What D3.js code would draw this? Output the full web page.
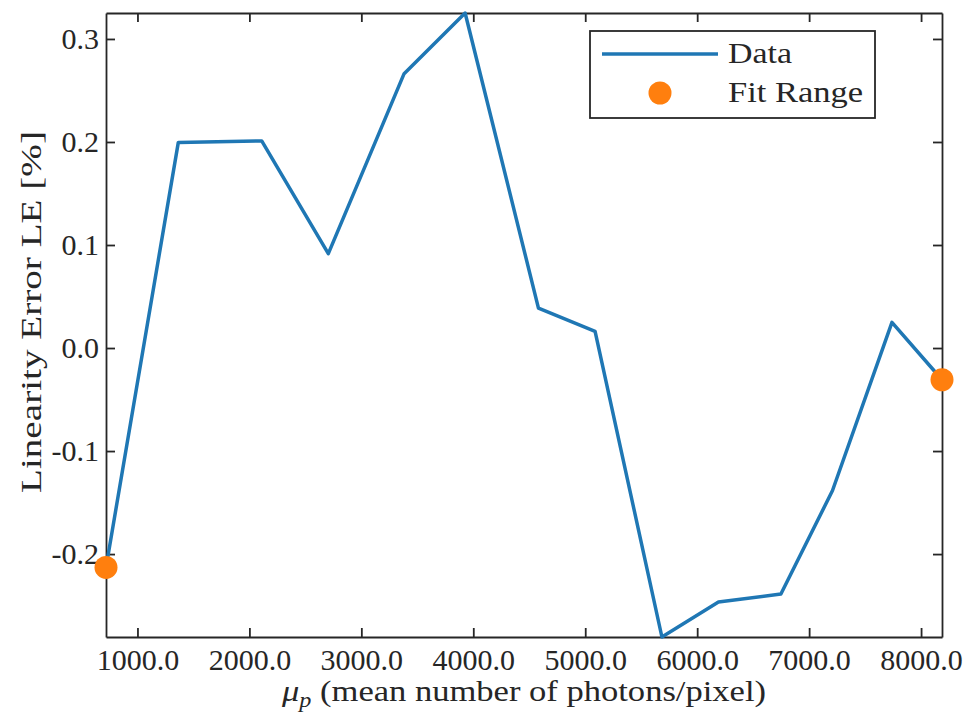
<!DOCTYPE html>
<html>
<head>
<meta charset="utf-8">
<script src="https://cdn.jsdelivr.net/npm/d3@7"></script>
<style>
    body { margin: 0; background: #fff; }
    text { font-family: "Liberation Serif", "Times New Roman", serif; fill: #262626; }
</style>
</head>
<body>
<div id="chart"></div>
<script>
// mean number of photons per pixel
const photons = [719, 1365, 2110, 2705, 3382, 3927, 4582, 5088, 5685, 6190, 6748, 7209, 7740, 8187];
// linearity error in percent
const linErr = [-0.213, 0.1996, 0.2010, 0.0916, 0.2663, 0.3252, 0.0388, 0.0161, -0.2805, -0.2466, -0.2388, -0.1383, 0.0249, -0.0308];
// first and last points mark the fit range
const fitIdx = [0, 13];

const xTicks = [1000, 2000, 3000, 4000, 5000, 6000, 7000, 8000];
const yTicks = [-0.2, -0.1, 0.0, 0.1, 0.2, 0.3];

const width = 967;
const height = 715;
const margin = { top: 13, right: 25, bottom: 78, left: 106 };
const axisColor = "#262626";

const data = photons.map((p, i) => ({ x: p, y: linErr[i] }));
const fitData = fitIdx.map(i => data[i]);

const svg = d3.select("#chart")
    .append("svg")
    .attr("width", width)
    .attr("height", height);

const x = d3.scaleLinear()
    .domain(d3.extent(photons))
    .range([margin.left, width - margin.right]);

const y = d3.scaleLinear()
    .domain(d3.extent(linErr))
    .range([height - margin.bottom, margin.top]);

const fmt = d => d.toFixed(1);

// axes with inward ticks on all four sides
const xAxisB = svg.append("g")
    .attr("transform", `translate(0, ${height - margin.bottom})`)
    .call(d3.axisBottom(x).tickValues(xTicks).tickSize(-9).tickSizeOuter(0).tickPadding(12).tickFormat(fmt));

const xAxisT = svg.append("g")
    .attr("transform", `translate(0, ${margin.top})`)
    .call(d3.axisTop(x).tickValues(xTicks).tickSize(-9).tickSizeOuter(0).tickFormat(""));

const yAxisL = svg.append("g")
    .attr("transform", `translate(${margin.left}, 0)`)
    .call(d3.axisLeft(y).tickValues(yTicks).tickSize(-9).tickSizeOuter(0).tickPadding(7).tickFormat(fmt));

const yAxisR = svg.append("g")
    .attr("transform", `translate(${width - margin.right}, 0)`)
    .call(d3.axisRight(y).tickValues(yTicks).tickSize(-9).tickSizeOuter(0).tickFormat(""));

[xAxisB, xAxisT, yAxisL, yAxisR].forEach(g => {
    g.selectAll(".domain").attr("stroke", axisColor).attr("stroke-width", 1.8);
    g.selectAll(".tick line").attr("stroke", axisColor).attr("stroke-width", 1.8);
    g.selectAll(".tick text")
        .style("font-family", "'Liberation Serif', serif")
        .style("font-size", "30px")
        .attr("fill", axisColor);
});

// data line
const line = d3.line()
    .x(d => x(d.x))
    .y(d => y(d.y));

svg.append("path")
    .datum(data)
    .attr("d", line)
    .attr("fill", "none")
    .attr("stroke", "#1f77b4")
    .attr("stroke-width", 3.5)
    .attr("stroke-linejoin", "round");

// fit range markers
svg.selectAll(".fit")
    .data(fitData)
    .enter()
    .append("circle")
    .attr("class", "fit")
    .attr("cx", d => x(d.x))
    .attr("cy", d => y(d.y))
    .attr("r", 11.5)
    .attr("fill", "#ff7f0e");

// axis labels
const xLabel = svg.append("text")
    .attr("x", (margin.left + width - margin.right) / 2)
    .attr("y", 701)
    .attr("text-anchor", "middle")
    .attr("textLength", 484)
    .attr("lengthAdjust", "spacingAndGlyphs")
    .style("font-size", "30px");
xLabel.append("tspan").style("font-style", "italic").text("μ");
xLabel.append("tspan").style("font-style", "italic").style("font-size", "21px").attr("dy", 6).text("p");
xLabel.append("tspan").attr("dy", -6).text(" (mean number of photons/pixel)");

svg.append("text")
    .attr("transform", `translate(41, 312) rotate(-90)`)
    .attr("text-anchor", "middle")
    .attr("textLength", 362)
    .attr("lengthAdjust", "spacingAndGlyphs")
    .style("font-size", "30px")
    .text("Linearity Error LE [%]");

// legend
const legend = svg.append("g").attr("class", "legend");

legend.append("rect")
    .attr("x", 590)
    .attr("y", 31)
    .attr("width", 285)
    .attr("height", 87)
    .attr("fill", "#fff")
    .attr("stroke", axisColor)
    .attr("stroke-width", 1.8);

legend.append("line")
    .attr("x1", 602)
    .attr("x2", 718)
    .attr("y1", 54)
    .attr("y2", 54)
    .attr("stroke", "#1f77b4")
    .attr("stroke-width", 3.5);

legend.append("circle")
    .attr("cx", 660)
    .attr("cy", 93)
    .attr("r", 11.5)
    .attr("fill", "#ff7f0e");

legend.append("text")
    .attr("x", 728)
    .attr("y", 63)
    .attr("textLength", 64)
    .attr("lengthAdjust", "spacingAndGlyphs")
    .style("font-size", "30px")
    .text("Data");

legend.append("text")
    .attr("x", 728)
    .attr("y", 102)
    .attr("textLength", 135)
    .attr("lengthAdjust", "spacingAndGlyphs")
    .style("font-size", "30px")
    .text("Fit Range");
</script>
</body>
</html>
